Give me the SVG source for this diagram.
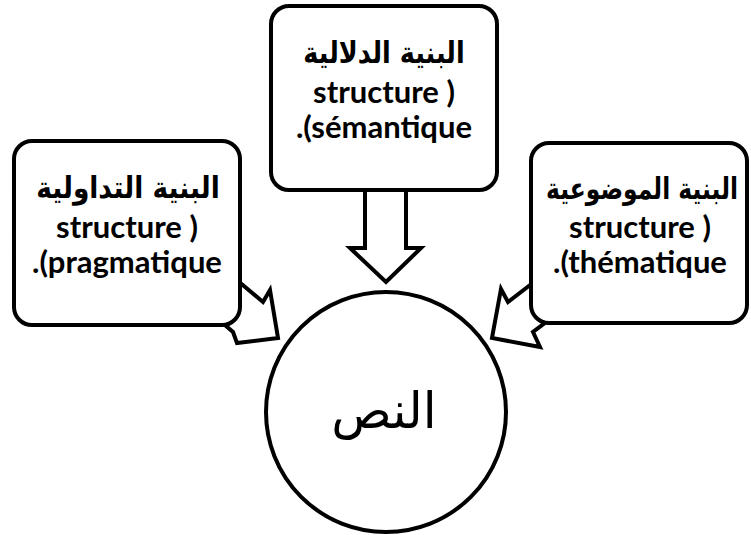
<svg xmlns="http://www.w3.org/2000/svg" width="751" height="535" viewBox="0 0 751 535">
  <style>
    .box { fill: #ffffff; stroke: #000000; stroke-width: 4; }
    .arrow { fill: #ffffff; stroke: #000000; stroke-width: 4; stroke-linejoin: miter; }
    .ar { font-family: "DejaVu Sans", sans-serif; font-weight: bold; font-size: 30px; text-anchor: middle; fill: #000; }
    .lat { font-family: Lato, "Open Sans", sans-serif; font-weight: bold; font-size: 31px; text-anchor: middle; fill: #000; }
    .core { font-family: "DejaVu Sans", sans-serif; font-size: 50px; text-anchor: middle; fill: #000; }
  </style>
  <rect width="751" height="535" fill="#ffffff"/>

  <!-- block arrows, drawn beneath the boxes so their tails disappear inside them -->
  <g id="connectors">
    <polygon class="arrow" points="365,170 406,170 406,248 421,248 386,282 350,248 365,248"/>
    <polygon class="arrow" points="213,260 263,302 270,290 278,338 237,343 233,332 190,295"/>
    <polygon class="arrow" points="560,262 508,302 501,289 492,338 540,347 533,332 573,302"/>
  </g>

  <g id="semantic">
    <rect class="box" x="271" y="6" width="226" height="184" rx="18"/>
    <text class="ar" transform="translate(384,63) scale(0.85,1)">البنية الدلالية</text>
    <text class="lat" x="384" y="103" direction="ltr">structure )</text>
    <text class="lat" x="384" y="138" direction="ltr">.(sémantique</text>
  </g>

  <g id="pragmatic">
    <rect class="box" x="14" y="141" width="226" height="184" rx="18"/>
    <text class="ar" transform="translate(128,198) scale(0.88,1)">البنية التداولية</text>
    <text class="lat" x="127" y="238" direction="ltr">structure )</text>
    <text class="lat" x="127" y="273" direction="ltr">.(pragmatique</text>
  </g>

  <g id="thematic">
    <rect class="box" x="531" y="143" width="216" height="180" rx="18"/>
    <text class="ar" transform="translate(642,199) scale(0.78,1)">البنية الموضوعية</text>
    <text class="lat" x="640" y="238" direction="ltr">structure )</text>
    <text class="lat" x="640" y="273" direction="ltr">.(thématique</text>
  </g>

  <g id="text">
    <circle class="box" cx="386" cy="412" r="120"/>
    <text class="core" x="384" y="428">النص</text>
  </g>
</svg>
